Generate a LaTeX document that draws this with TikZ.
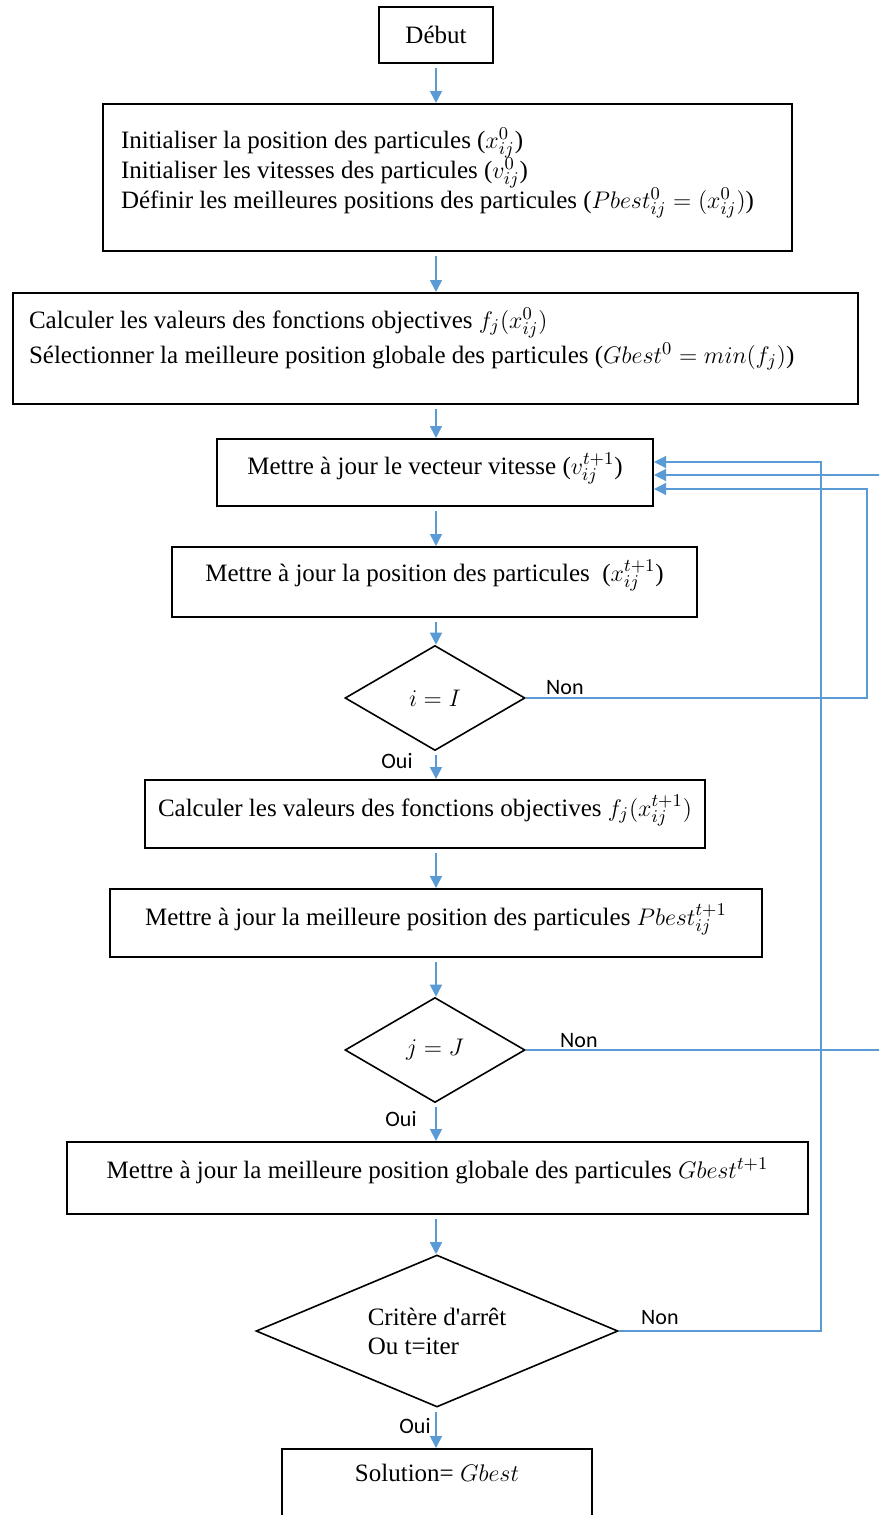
\documentclass[tikz,border=0pt]{standalone}
\usepackage{fontspec}
\setmainfont{Liberation Serif}
\newfontfamily\lblfont{Carlito}
\usetikzlibrary{shapes.geometric,arrows.meta,positioning}
\definecolor{flowblue}{RGB}{91,155,213}

\begin{document}
\begin{tikzpicture}[x=0.5pt,y=-0.5pt,
  proc/.style={draw, line width=1pt, inner sep=0pt, font={\fontsize{12.5}{13.5}\selectfont\lineskip=0pt}},
  tallproc/.style={proc, align=flush left, inner xsep=9pt},
  decision/.style={draw, line width=0.8pt, shape=diamond, inner sep=0pt, align=left, font=\fontsize{12.5}{14.5}\selectfont},
  flow/.style={draw=flowblue, line width=0.8pt, -{Triangle[width=6pt,length=6pt]}},
  back/.style={flow, line width=0.6pt},
  lbl/.style={font={\lblfont\fontsize{11}{12}\selectfont}, inner sep=1pt}]

% Page
\useasboundingbox (0,0) rectangle (879,1515);
\clip (0,0) rectangle (879,1515);

% Column and return lines
\coordinate (axis) at (436,0);
\coordinate (ra) at (867,0);
\coordinate (rb) at (895,0);
\coordinate (rc) at (821,0);

% Start and initialisation
\node[proc, minimum width=57pt, minimum height=28pt] (deb) at (436,35) {Début};
\node[tallproc, text width=326.5pt, text height=22pt, text depth=51.5pt] (init) at (447.5,177.5)
  {Initialiser la position des particules ($x_{ij}^{0}$)\\
   Initialiser les vitesses des particules ($v_{ij}^{0}$)\\
   Définir les meilleures positions des particules ($Pbest_{ij}^{0} = (x_{ij}^{0})$)};
\node[tallproc, inner xsep=8pt, text width=406.5pt, text height=17.5pt, text depth=38pt] (eval) at (435.5,348.5)
  {Calculer les valeurs des fonctions objectives $f_j(x_{ij}^{0})$\\[2.5pt]
   Sélectionner la meilleure position globale des particules ($Gbest^{0} = min(f_j)$)};

% Loop over particles
\node[proc, minimum width=218pt, text height=17.5pt, text depth=16pt] (vel) at (435,472.5)
  {Mettre à jour le vecteur vitesse ($v_{ij}^{t+1}$)};
\node[proc, minimum width=262.5pt, text height=17pt, text depth=18pt] (pos) at (434.5,582)
  {Mettre à jour la position des particules \ ($x_{ij}^{t+1}$)};
\node[decision, minimum width=90pt, minimum height=52.5pt] (d1) at (435,698) {$i = I$};

% Evaluation and personal best
\node[proc, minimum width=280pt, text height=18pt, text depth=16pt] (evalt) at (425,814)
  {Calculer les valeurs des fonctions objectives $f_j(x_{ij}^{t+1})$};
\node[proc, minimum width=326pt, text height=18pt, text depth=16pt] (pbest) at (436,923)
  {Mettre à jour la meilleure position des particules $Pbest_{ij}^{t+1}$};
\node[decision, minimum width=90pt, minimum height=52.5pt] (d2) at (435,1050) {$j = J$};

% Global best and stop test
\node[proc, minimum width=370.5pt, text height=18pt, text depth=18pt] (gbest) at (437.5,1178)
  {Mettre à jour la meilleure position globale des particules $Gbest^{t+1}$};
\node[decision, aspect=2.38, minimum width=181pt, minimum height=76pt] (d3) at (437,1331)
  {Critère d\textquotesingle arrêt\\Ou t=iter};
\node[proc, minimum width=155pt, text height=16pt, text depth=29.5pt] (sol) at (437,1494.5)
  {Solution= $Gbest$};

% Main flow
\foreach \a/\b in {deb/init, init/eval, eval/vel, vel/pos, pos/d1, d1/evalt,
                   evalt/pbest, pbest/d2, d2/gbest, gbest/d3, d3/sol}
  \draw[flow, shorten <=2pt] (\a.south -| axis) -- (\b.north -| axis);

% Return lines
\draw[back] (d1.east) -- (d1.east -| ra) |- ([yshift=-8.25pt]vel.east);
\draw[back] (d2.east) -- (d2.east -| rb) |- ([yshift=-1.25pt]vel.east);
\draw[back] (d3.east) -- (d3.east -| rc) |- ([yshift=5.25pt]vel.east);

% Labels
\node[lbl, above right=0.5pt and 9pt of d1.east] (non1) {Non};
\node[lbl, above right=0pt and 16pt of d2.east] (non2) {Non};
\node[lbl, above right=2pt and 10pt of d3.east] (non3) {Non};
\node[lbl, below left=0pt and 10pt of d1.south] (oui1) {Oui};
\node[lbl, below left=3pt and 8pt of d2.south] (oui2) {Oui};
\node[lbl, below left=4pt and 2pt of d3.south] (oui3) {Oui};

\end{tikzpicture}
\end{document}
